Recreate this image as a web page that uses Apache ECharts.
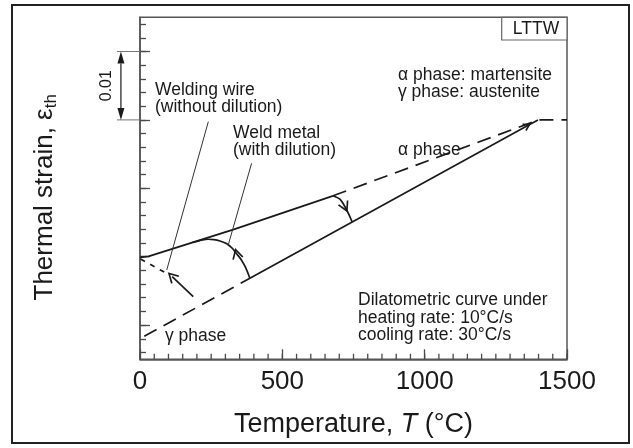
<!DOCTYPE html>
<html><head><meta charset="utf-8">
<script src="https://cdn.jsdelivr.net/npm/echarts@6/dist/echarts.min.js"></script>
<style>html,body{margin:0;padding:0;background:#fff}#c{width:633px;height:448px}</style>
</head><body><div id="c"></div>
<script>
// ---- data (temperature °C, thermal strain in units of 0.001, arbitrary origin) ----
const xTickLabels = [0, 500, 1000, 1500];
const xMinorTicks = [0,50,100,150,200,250,300,350,400,450,500,550,600,650,700,750,800,850,900,950,1000,1050,1100,1150,1200,1250,1300,1350,1400,1450,1500];
const yMinorTicks = [1,3,5,7,9,11,13,15,17,19,21,23,25,27,29,31,33,35,37,39,41,43,45,47,49];
const yMajorTicks = [5,15,25,35,45];
const alphaSolid = [[0,14.9],[30,15.05],[330,19.0],[678,23.9]];
const alphaDashed = [[678,23.9],[1400,35.0],[1500,35.0]];
const gammaSolid = [[386,11.85],[1359,34.1],[1398,35.0]];
const gammaDashed = [[15,3.36],[386,11.85]];
const weldMetal = [[386,11.85],[370,13.5],[355,14.6],[340,15.4],[325,16.2],[305,16.9],[281,17.3],[260,17.5],[239,17.55],[220,17.45],[200,17.25],[185,17.1]];
const heatingTransform = [[678,23.9],[702,23.4],[720,22.3],[738,20.8],[745,20.1]];
const weldingWire = [[85,12.75],[0,14.7]];
const wireArrow = [[187,9.15],[113,12.08]];
const leaderWire = [[240,34.74],[94,13.06]];
const leaderWeld = [[392,28.65],[310,16.71]];
const scaleBarT = -67, scaleBarLeftT = -81;
const scaleBarRange = [35, 45]; // 0.01 strain

const FONT = "'Liberation Sans', Arial, sans-serif";
const INK = '#1a1a1a';
const TICK = '#4a4a4a';
const VPATH = 'path://M0,10 L5,0 L10,10';

function arrowAt(points, idx, rot, size) {
  return points.map((p, i) => i === idx ? {
    value: p, symbol: VPATH, symbolSize: size || [10, 9], symbolRotate: rot,
    itemStyle: { color: 'rgba(0,0,0,0)', borderColor: INK, borderWidth: 1.6 }
  } : p);
}
function line(data, opts) {
  return Object.assign({
    type: 'line', data: data, xAxisIndex: 0, yAxisIndex: 0,
    symbol: 'none', showSymbol: true, silent: true, animation: false, z: 5,
    lineStyle: { color: INK, width: 1.7 }
  }, opts || {});
}
function tickCat(extra) {
  return Object.assign({ type: 'category', boundaryGap: false,
    axisLine: { show: false }, axisLabel: { show: false }, splitLine: { show: false } }, extra);
}

const chart = echarts.init(document.getElementById('c'), null, { renderer: 'canvas' });
const H = 448, W = 633;
const plotLeft = 140, plotRight = 567, plotTop = 17.3, plotBottom = 359.3;
const yMax = 50, unitPx = (plotBottom - plotTop) / yMax;
const py = v => plotBottom - v * unitPx;

chart.setOption({
  animation: false,
  grid: [
    { left: plotLeft, right: W - plotRight, top: plotTop, bottom: H - plotBottom, show: true, borderColor: '#555', borderWidth: 1.5 },
    { left: plotLeft, right: W - plotRight, top: py(yMinorTicks[yMinorTicks.length - 1]), bottom: H - py(yMinorTicks[0]) },
    { left: plotLeft, right: W - plotRight, top: py(yMajorTicks[yMajorTicks.length - 1]), bottom: H - py(yMajorTicks[0]) }
  ],
  xAxis: [
    { gridIndex: 0, type: 'value', min: xTickLabels[0], max: xTickLabels[xTickLabels.length - 1], interval: 500,
      axisLine: { show: true, lineStyle: { color: '#555', width: 1.5 } },
      axisTick: { show: true, inside: true, length: 10, lineStyle: { color: TICK, width: 1.3 } },
      splitLine: { show: false },
      axisLabel: { fontSize: 26, color: INK, fontFamily: FONT, margin: 10, formatter: v => String(v) },
      name: 'Temperature, {it|T} (°C)', nameLocation: 'middle', nameGap: 52,
      nameTextStyle: { fontSize: 27, color: INK, fontFamily: FONT, rich: { it: { fontSize: 27, fontStyle: 'italic', color: INK, fontFamily: FONT } } }
    },
    { gridIndex: 1, type: 'value', min: 0, max: 1, show: false },
    { gridIndex: 2, type: 'value', min: 0, max: 1, show: false }
  ],
  yAxis: [
    { gridIndex: 0, type: 'value', min: 0, max: yMax,
      axisLine: { show: true, lineStyle: { color: '#555', width: 1.5 } },
      axisTick: { show: false }, axisLabel: { show: false }, splitLine: { show: false },
      name: 'Thermal strain, ε{sub|th}', nameLocation: 'middle', nameGap: 80, nameRotate: 90,
      nameTextStyle: { fontSize: 26, color: INK, fontFamily: FONT, lineHeight: 30, padding: [0, 18, 0, 0],
        rich: { sub: { fontSize: 17, color: INK, fontFamily: FONT, lineHeight: 17, verticalAlign: 'bottom' } } }
    },
    tickCat({ gridIndex: 1, data: yMinorTicks.map(String),
      axisTick: { show: true, inside: true, interval: 0, length: 6, lineStyle: { color: TICK, width: 1.3 } } }),
    tickCat({ gridIndex: 2, data: yMajorTicks.map(String),
      axisTick: { show: true, inside: true, interval: 0, length: 10, lineStyle: { color: TICK, width: 1.3 } } })
  ],
  series: [
    { type: 'scatter', xAxisIndex: 0, yAxisIndex: 0, silent: true, animation: false, clip: false, z: 30,
      data: xMinorTicks.map(t => [t, 0]), symbol: 'rect', symbolSize: [1.3, 5.5], symbolOffset: [0, -2.75],
      itemStyle: { color: TICK, opacity: 1 } },
    line(alphaSolid),
    line(alphaDashed, { lineStyle: { color: INK, width: 1.7, type: [14, 8] } }),
    line(arrowAt(gammaSolid, 1, 299, [7, 6])),
    line(gammaDashed, { lineStyle: { color: INK, width: 1.7, type: [14, 8] } }),
    line(arrowAt(weldMetal, 3, 15), { smooth: 0.3 }),
    line(arrowAt(heatingTransform, 2, 205), { smooth: 0.3 }),
    line(weldingWire, { lineStyle: { color: INK, width: 1.7, type: [5, 6] } }),
    line(arrowAt(wireArrow, 1, 45)),
    line(leaderWire, { lineStyle: { color: '#333', width: 1 } }),
    line(leaderWeld, { lineStyle: { color: '#333', width: 1 } })
  ]
});

function txt(t, x, y, align) {
  return { type: 'text', x: x, y: y, z: 20, silent: true,
    style: { text: t, font: '17.5px ' + FONT, fill: INK, align: align || 'left', verticalAlign: 'middle' } };
}
const toPx = p => chart.convertToPixel({ gridIndex: 0 }, p);
const sTop = toPx([scaleBarT, scaleBarRange[1]]);
const sBot = toPx([scaleBarT, scaleBarRange[0]]);
const sLeftTop = toPx([scaleBarLeftT, scaleBarRange[1]]);
const sLeftBot = toPx([scaleBarLeftT, scaleBarRange[0]]);
const sAxisTop = toPx([0, scaleBarRange[1]]);
const sAxisBot = toPx([0, scaleBarRange[0]]);
const hw = 3.5, hh = 12;

chart.setOption({
  graphic: [
    { type: 'rect', shape: { x: 12, y: 5, width: 617, height: 438 }, style: { fill: 'none', stroke: '#222', lineWidth: 2 }, z: 0, silent: true },
    { type: 'rect', shape: { x: 501.7, y: plotTop, width: plotRight - 501.7, height: 22.7 }, style: { fill: '#fff', stroke: '#666', lineWidth: 1.2 }, z: 10, silent: true },
    txt('LTTW', 536, 29, 'center'),
    txt('α phase: martensite', 398, 75.5),
    txt('γ phase: austenite', 398, 92.5),
    txt('α phase', 398, 150),
    txt('Welding wire', 155, 90),
    txt('(without dilution)', 155, 107.5),
    txt('Weld metal', 233, 133),
    txt('(with dilution)', 233, 150),
    txt('Dilatometric curve under', 358, 300),
    txt('heating rate: 10°C/s', 358, 318),
    txt('cooling rate: 30°C/s', 358, 335.5),
    txt('γ phase', 165, 336),
    { type: 'text', x: 107, y: (sTop[1] + sBot[1]) / 2, rotation: Math.PI / 2, z: 20, silent: true,
      style: { text: '0.01', font: '16px ' + FONT, fill: INK, align: 'center', verticalAlign: 'middle' } },
    { type: 'line', silent: true, z: 20, shape: { x1: sLeftTop[0], y1: sLeftTop[1], x2: sAxisTop[0], y2: sAxisTop[1] }, style: { stroke: '#777', lineWidth: 1 } },
    { type: 'line', silent: true, z: 20, shape: { x1: sLeftBot[0], y1: sLeftBot[1], x2: sAxisBot[0], y2: sAxisBot[1] }, style: { stroke: '#777', lineWidth: 1 } },
    { type: 'line', silent: true, z: 20, shape: { x1: sTop[0], y1: sTop[1] + hh, x2: sBot[0], y2: sBot[1] - hh }, style: { stroke: INK, lineWidth: 1.2 } },
    { type: 'polygon', silent: true, z: 20, shape: { points: [[sTop[0], sTop[1]], [sTop[0] - hw, sTop[1] + hh], [sTop[0] + hw, sTop[1] + hh]] }, style: { fill: INK } },
    { type: 'polygon', silent: true, z: 20, shape: { points: [[sBot[0], sBot[1]], [sBot[0] - hw, sBot[1] - hh], [sBot[0] + hw, sBot[1] - hh]] }, style: { fill: INK } }
  ]
});
</script></body></html>
